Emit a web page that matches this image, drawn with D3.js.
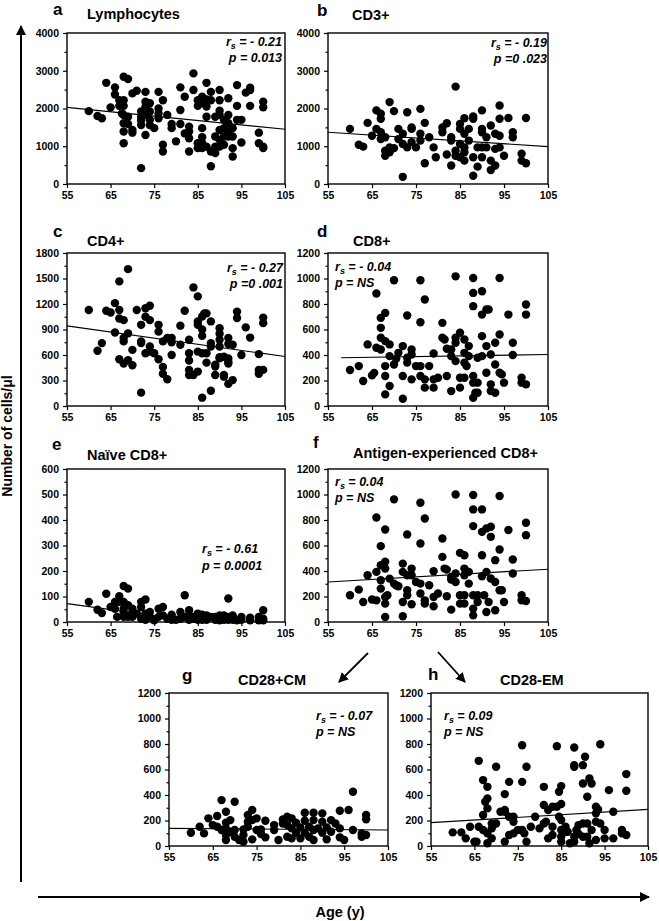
<!DOCTYPE html>
<html><head><meta charset="utf-8">
<script src="https://cdn.jsdelivr.net/npm/d3@7"></script>
<style>body{margin:0;background:#fff}svg{display:block}text{font-family:"Liberation Sans",Arial,Helvetica,sans-serif}</style>
</head><body>
<script>
// ---------- DATA ----------
const xTicks = [55, 65, 75, 85, 95, 105];
const letters = ["a", "b", "c", "d", "e", "f", "g", "h"];
const titles = ["Lymphocytes", "CD3+", "CD4+", "CD8+", "Naïve CD8+", "Antigen-experienced CD8+", "CD28+CM", "CD28-EM"];
const yMax = [4000, 4000, 1800, 1200, 600, 1200, 1200, 1200];
const yStep = [1000, 1000, 300, 200, 100, 200, 200, 200];
const rsValues = ["= - 0.21", "= - 0.19", "=  - 0.27", "= - 0.04", "= - 0.61", "= 0.04", "= - 0.07", "= 0.09"];
const pValues = ["p = 0.013", "p =0 .023", "p =0 .001", "p = NS", "p = 0.0001", "p = NS", "p = NS", "p = NS"];
const xLabel = "Age (y)";
const yLabel = "Number of cells/\u03bcl";

const fitA = [[55, 2030], [105, 1450]];
const fitB = [[55, 1370], [105, 990]];
const fitC = [[55, 943], [105, 582]];
const fitD = [[58, 378], [105, 404]];
const fitE = [[55, 72], [86, 0]];
const fitF = [[55, 314], [105, 414]];
const fitG = [[55, 138], [105, 125]];
const fitH = [[55, 183], [105, 287]];

const dataA = [[60,1930],[62,1800],[63,1740],[64,2680],[65,2030],[66,2560],[66,2370],[67,2220],[67,2070],[67.6,1870],
[68,2840],[69,2780],[68,2220],[68,2070],[68,1830],[68,1610],[68,1390],[68,1080],[69,1780],[69,1590],[70,1430],[70,1360],
[70,2400],[71,2470],[73,2440],[73,2180],[72,1920],[72,1780],[72,1680],[72,1560],[72,420],[73,1300],[73,2050],[73,1830],
[74,1700],[74,1560],[74,2140],[74,1920],[75,1480],[76,2440],[76,2000],[76,1870],[76,1740],[77,2220],[77,1040],[77,860],
[78,1830],[79,1590],[79,1480],[80,1130],[81,2560],[81,1960],[81,1590],[82,1340],[82,2310],[83,1520],[83,1390],[83,1210],
[83,860],[84,2930],[84,2490],[85,2220],[85,2070],[85,1080],[85,950],[86,2310],[86,2140],[86,1480],[86,1240],[86,1080],
[86,950],[86.5,2240],[87,1780],[87,2680],[87,2240],[87,2050],[87,990],[88,860],[88,2440],[88,2220],[88,470],[89,990],
[89,820],[89,1780],[89,1260],[90,2490],[90,2220],[90,1940],[90,1830],[90,1430],[90,1170],[90,990],[91,1700],[91,1480],
[91,1260],[91,1040],[92,2270],[92,1390],[92,1260],[92,1610],[92,1830],[93,950],[93,730],[93,1480],[93,1260],[94,2620],
[94,2070],[94,1700],[95,1100],[95,1700],[96,2420],[97,2490],[97,2550],[97,2070],[99,1360],[99,1080],[100,990],[100,2180],
[100,2030],[100,950]];

const dataB = [[60,1460],[62,1040],[63,990],[64,1620],[65,1280],[66,1950],[66,1460],[67,1860],[67,1730],[67,1190],[67,1370],
[68,1240],[68,880],[68,750],[69,2170],[69,970],[69,840],[70,1930],[70,950],[71,1460],[71,1190],[72,190],[72,1330],[72,1060],
[73,1900],[73,970],[74,1500],[74,1460],[74,1110],[75,970],[76,1990],[76,1330],[76,1150],[77,1620],[77,550],[78,1240],[79,970],
[79.5,710],[81,1500],[81,1370],[82,1610],[82,780],[83,1240],[83,1150],[83,490],[84,2580],[84,880],[84,750],[85,1590],[85,1460],
[85,1060],[85,710],[86,620],[86,1740],[86,1330],[86,970],[86,840],[87,1460],[87,1150],[88,1790],[88,1730],[88,220],[88,710],
[89,970],[89,460],[90,1460],[90,1950],[90,1370],[90,710],[90,970],[91,1240],[91,970],[92,1550],[92,370],[92,620],[93,490],
[93,930],[93,1330],[94,2080],[94,1730],[94,1280],[94,970],[95,750],[96,1750],[97,1370],[97,1240],[99,800],[99,620],[100,1750],[100,550]];

const dataC = [[60,1130],[62,650],[63,740],[64,1120],[65,1100],[66,1210],[66,865],[67,1466],[67,1130],[67,550],[67,1030],[68,1010],
[68,500],[68,760],[68,800],[69,1610],[69,855],[69,540],[70,660],[70,480],[71,1130],[72,157],[72,955],[72,760],[72,740],[73,1150],
[73,1050],[73,620],[74,1180],[74,1010],[74,640],[74,700],[75,620],[76,955],[76,875],[76,550],[77,760],[77,460],[77,380],[78,800],
[79,800],[79,750],[79,600],[78,315],[81,945],[81,720],[82,1120],[83,780],[83,620],[83,535],[83,425],[83,365],[84,1395],[84,365],
[85,1290],[85,995],[85,955],[85,405],[85,640],[86,98],[86,1053],[86,900],[86,825],[86,620],[86.5,1090],[87,1090],[87,620],[87,510],
[88,995],[88,740],[88,700],[88,180],[89,485],[89,465],[89,365],[90,915],[90,850],[90,780],[90,575],[90,700],[90,560],[91,365],
[91,345],[91,580],[92,800],[92,730],[92,560],[92,520],[92,260],[92,500],[93,720],[93,305],[94,1110],[94,1035],[95,600],[96,925],
[97,805],[99,610],[99,425],[99,380],[100,1040],[100,975],[100,425]];

const dataD = [[60,282],[62,313],[63,196],[64,483],[65,240],[65.5,260],[66,457],[66,882],[67,443],[67,535],[67,613],[67,691],
[68,730],[68,509],[68,313],[68,235],[68,91],[69,483],[69,157],[69,391],[70,986],[70,326],[70.5,370],[71,417],[72,57],[72,470],
[72,235],[73,710],[73,378],[73,340],[74,209],[74,443],[74,404],[75,313],[76,986],[76,657],[76,313],[76,235],[77,835],[77,209],
[77,144],[78,313],[79,412],[79,209],[79,144],[80,222],[81,652],[81,535],[81.5,522],[82,235],[82,449],[83,443],[83,391],[83,117],
[84,1017],[84,535],[84,496],[84,352],[85,574],[85,222],[85,144],[86,522],[86,417],[86,339],[86,222],[86.5,313],[87,470],[87,391],
[88,1004],[88,887],[88,783],[88,235],[88,183],[88,65],[88.5,104],[89,378],[89,183],[89,104],[90,900],[90,717],[90,548],[90,391],
[91,757],[91,470],[91,261],[91.5,757],[92,404],[92,170],[92,117],[93,496],[93,326],[93,104],[94,1004],[94,561],[94,261],[94.5,248],
[95,183],[96,717],[97,496],[97,400],[99,222],[99,183],[100,796],[100,717],[100,170]];

const dataE = [[60,79],[62,48],[63,35],[64,111],[65,59],[66,79],[66,52],[67,101],[67,79],[66.5,20],[68,141],[69,131],[68,79],
[68,52],[68,20],[68,39],[69,66],[69,20],[70,39],[70,52],[70,20],[71,33],[72,79],[72,59],[72,13],[73,88],[73,33],[73,9],[74,39],
[74,20],[75,7],[76,52],[76,20],[77,59],[77,26],[78,13],[79,29],[79,9],[80,9],[81,39],[81,13],[82,105],[82,20],[83,46],[83,26],
[83,9],[84,13],[84,20],[85,33],[85,9],[86,29],[86,9],[87,26],[87,9],[88,20],[89,9],[89,20],[90,7],[90,26],[90,13],[91,9],[91,26],
[92,92],[92,20],[92,9],[93,26],[93,9],[94,7],[95,20],[95,9],[97,17],[97,7],[99,7],[99,20],[100,46],[100,13],[100,7]];

const dataF = [[60,210],[62,254],[63,157],[64,367],[65,176],[66,170],[66,820],[66,393],[67,595],[67,445],[67,327],[67,262],[68,726],
[68,472],[68,419],[68,196],[68,144],[68,39],[68.5,210],[69,340],[70,962],[70,301],[70.5,288],[71,280],[72,458],[72,393],[72,157],
[72,45],[73,687],[73,249],[73,210],[73,367],[74,419],[74,367],[74,139],[75,314],[76,301],[76,935],[76,616],[76,223],[77,812],
[77,170],[77,144],[78,288],[79,398],[79,196],[79,123],[80,223],[81,655],[81,511],[81.5,419],[82,411],[82,202],[83,354],[83,333],
[83,97],[84,1000],[84,380],[84,314],[85,542],[85,144],[85,210],[86,524],[86,419],[86,367],[86,210],[86,144],[87,393],[87,301],
[88,996],[88,883],[88,752],[88,210],[88,105],[88,52],[89,157],[89,210],[90,883],[90,707],[90,524],[90,359],[90.5,210],[91,79],
[91,734],[91,393],[91.5,157],[92,747],[92,668],[92,341],[93,485],[93,314],[93,92],[94,988],[94,569],[94,249],[94.5,249],[95,157],
[96,721],[97,490],[97,380],[99,210],[99,170],[100,778],[100,681],[100,165]];

const dataG = [[60,104],[62,151],[63,99],[64,217],[65,164],[66,235],[66,151],[67,360],[67,125],[68,269],[68,183],[68,86],[68,47],
[68,138],[69,203],[69,112],[70,347],[70,125],[70,73],[71,47],[72,130],[72,86],[72,34],[73,190],[73,151],[73,243],[74,282],[74,203],
[74,52],[75,217],[75,125],[76,130],[76,94],[77,198],[77,68],[79,164],[79,125],[80,47],[81,209],[81,177],[82,230],[82,164],[82,73],
[83,217],[83,138],[83,60],[84,183],[84,104],[85,146],[85,60],[86,261],[86,198],[86,104],[87,151],[87,73],[88,261],[88,203],[88,125],
[88,47],[89,138],[90,256],[90,190],[90,104],[91,146],[91,52],[92,203],[92,112],[93,177],[94,138],[94,277],[94,68],[95,47],[96,282],
[97,425],[97,125],[99,99],[99,73],[100,243],[100,209],[100,86]];

const dataH = [[60,107],[62,107],[63,60],[64,151],[65,34],[65.5,34],[66,668],[66,151],[67,517],[67,243],[67,125],[67.5,347],[68,464],
[68,373],[68,295],[68,21],[68,99],[69,177],[69,60],[69,138],[70,621],[70,177],[71,269],[72,269],[72,407],[72,34],[72,282],[73,230],
[73,503],[73,86],[74,230],[74,190],[74,99],[75,125],[76,790],[76,503],[76,125],[76.5,99],[77,621],[77,34],[78,151],[79,230],[80,138],
[81,464],[81,321],[81,177],[81.5,190],[82,60],[82,282],[83,308],[83,151],[83,86],[84,783],[84,308],[84.5,425],[84.5,230],[85,125],
[85,329],[85,470],[85,203],[85,73],[85,34],[86,151],[86,112],[86.5,112],[87,21],[88,773],[88,634],[88,621],[88,73],[88,34],[88.5,125],
[89,164],[89,94],[90,634],[90,490],[90,177],[90,73],[90.5,700],[91,386],[91,177],[91,73],[91.5,530],[92,490],[91.5,21],[92,125],
[93,308],[93,256],[93,190],[93,47],[93.5,287],[94,798],[94,177],[95,125],[95,60],[96,438],[97,269],[97,60],[99,125],[99,99],
[100,564],[100,433],[100,86]];

const allData = [dataA, dataB, dataC, dataD, dataE, dataF, dataG, dataH];
const allFits = [fitA, fitB, fitC, fitD, fitE, fitF, fitG, fitH];

// ---------- LAYOUT ----------
const W = 659, H = 921;
const boxes = [
  {x0:67, x1:285, y0:33, y1:184},
  {x0:328, x1:548, y0:33, y1:184},
  {x0:67, x1:285, y0:253, y1:406},
  {x0:328, x1:548, y0:253, y1:406},
  {x0:67, x1:285, y0:469, y1:622},
  {x0:328, x1:548, y0:469, y1:622},
  {x0:169, x1:388, y0:693, y1:846},
  {x0:431, x1:648, y0:693, y1:846}
];
const letterPos = [[53,15],[317,16],[53,237],[317,237],[52,450],[313,448],[182,681],[428,680]];
const titlePos = [[87,19],[352,20],[87,246],[353,246],[87,460],[353,458],[238,685],[500,685]];
// annotation: [x, baseline r, baseline p, anchor]
const annPos = [[282,46,62,"end"],[547,47,63,"end"],[283,272,288,"end"],[335,271,287,"start"],
                [202,553,570,"start"],[335,486,502,"start"],[316,720,736,"start"],[444,720,736,"start"]];

const svg = d3.select("body").append("svg").attr("width", W).attr("height", H);
svg.append("rect").attr("width", W).attr("height", H).attr("fill", "#fff");

const defs = svg.append("defs");
defs.append("marker").attr("id","ah").attr("viewBox","0 0 10 10").attr("refX",9).attr("refY",5)
  .attr("markerWidth",10).attr("markerHeight",10).attr("markerUnits","userSpaceOnUse").attr("orient","auto")
  .append("path").attr("d","M0,0 L10,5 L0,10 Z").attr("fill","#000");

boxes.forEach((b, i) => {
  const x = d3.scaleLinear().domain([55, 105]).range([b.x0, b.x1]);
  const y = d3.scaleLinear().domain([0, yMax[i]]).range([b.y1, b.y0]);
  const g = svg.append("g");

  g.append("g").selectAll("circle").data(allData[i]).join("circle")
    .attr("cx", d => x(d[0])).attr("cy", d => y(d[1])).attr("r", 4.2).attr("fill", "#000");

  const f = allFits[i];
  g.append("line").attr("x1", x(f[0][0])).attr("y1", y(f[0][1])).attr("x2", x(f[1][0])).attr("y2", y(f[1][1]))
    .attr("stroke", "#000").attr("stroke-width", 1.1);

  g.append("rect").attr("x", b.x0).attr("y", b.y0).attr("width", b.x1 - b.x0).attr("height", b.y1 - b.y0)
    .attr("fill", "none").attr("stroke", "#000").attr("stroke-width", 1.4);

  const yTicks = d3.range(0, yMax[i] + 1, yStep[i]);
  const yMinor = d3.range(yStep[i] / 2, yMax[i], yStep[i]);
  const ya = g.append("g").attr("transform", `translate(${b.x0},0)`)
    .call(d3.axisLeft(y).tickValues(yTicks).tickSize(4).tickPadding(4).tickFormat(d3.format("d")));
  const ym = g.append("g").attr("transform", `translate(${b.x0},0)`)
    .call(d3.axisLeft(y).tickValues(yMinor).tickSize(2.5).tickFormat(""));
  const xa = g.append("g").attr("transform", `translate(0,${b.y1})`)
    .call(d3.axisBottom(x).tickValues(xTicks).tickSize(4).tickPadding(4).tickFormat(d3.format("d")));
  [ya, ym, xa].forEach(a => {
    a.select(".domain").remove();
    a.selectAll("line").attr("stroke", "#000").attr("stroke-width", 1.2);
    a.selectAll("text").attr("font-family", '"Liberation Sans",Arial,sans-serif')
      .attr("font-size", 10.5).attr("font-weight", "bold").attr("fill", "#000");
  });

  svg.append("text").attr("x", letterPos[i][0]).attr("y", letterPos[i][1]).text(letters[i])
    .attr("font-size", 17).attr("font-weight", "bold");
  svg.append("text").attr("x", titlePos[i][0]).attr("y", titlePos[i][1]).text(titles[i])
    .attr("font-size", 14.5).attr("font-weight", "bold");

  const a = annPos[i];
  const t1 = svg.append("text").attr("x", a[0]).attr("y", a[1]).attr("text-anchor", a[3])
    .attr("font-size", 12.5).attr("font-weight", "bold").attr("font-style", "italic");
  t1.append("tspan").text("r");
  t1.append("tspan").text("s").attr("font-size", 9).attr("dy", 3);
  t1.append("tspan").text(" " + rsValues[i]).attr("dy", -3);
  svg.append("text").attr("x", a[0]).attr("y", a[2]).attr("text-anchor", a[3])
    .attr("font-size", 12.5).attr("font-weight", "bold").attr("font-style", "italic").text(pValues[i]);
});

svg.append("line").attr("x1", 21).attr("y1", 882).attr("x2", 21).attr("y2", 26)
  .attr("stroke", "#000").attr("stroke-width", 2).attr("marker-end", "url(#ah)");
svg.append("line").attr("x1", 38).attr("y1", 897).attr("x2", 649).attr("y2", 897)
  .attr("stroke", "#000").attr("stroke-width", 2).attr("marker-end", "url(#ah)");
svg.append("text").attr("transform", "translate(12,436) rotate(-90)").attr("text-anchor", "middle")
  .attr("font-size", 14).attr("font-weight", "bold").text(yLabel);
svg.append("text").attr("x", 340).attr("y", 917).attr("text-anchor", "middle")
  .attr("font-size", 14.5).attr("font-weight", "bold").text(xLabel);

svg.append("line").attr("x1", 368).attr("y1", 653).attr("x2", 339).attr("y2", 682)
  .attr("stroke", "#000").attr("stroke-width", 1.8).attr("marker-end", "url(#ah)");
svg.append("line").attr("x1", 438).attr("y1", 652).attr("x2", 465).attr("y2", 682)
  .attr("stroke", "#000").attr("stroke-width", 1.8).attr("marker-end", "url(#ah)");
</script>
</body></html>
